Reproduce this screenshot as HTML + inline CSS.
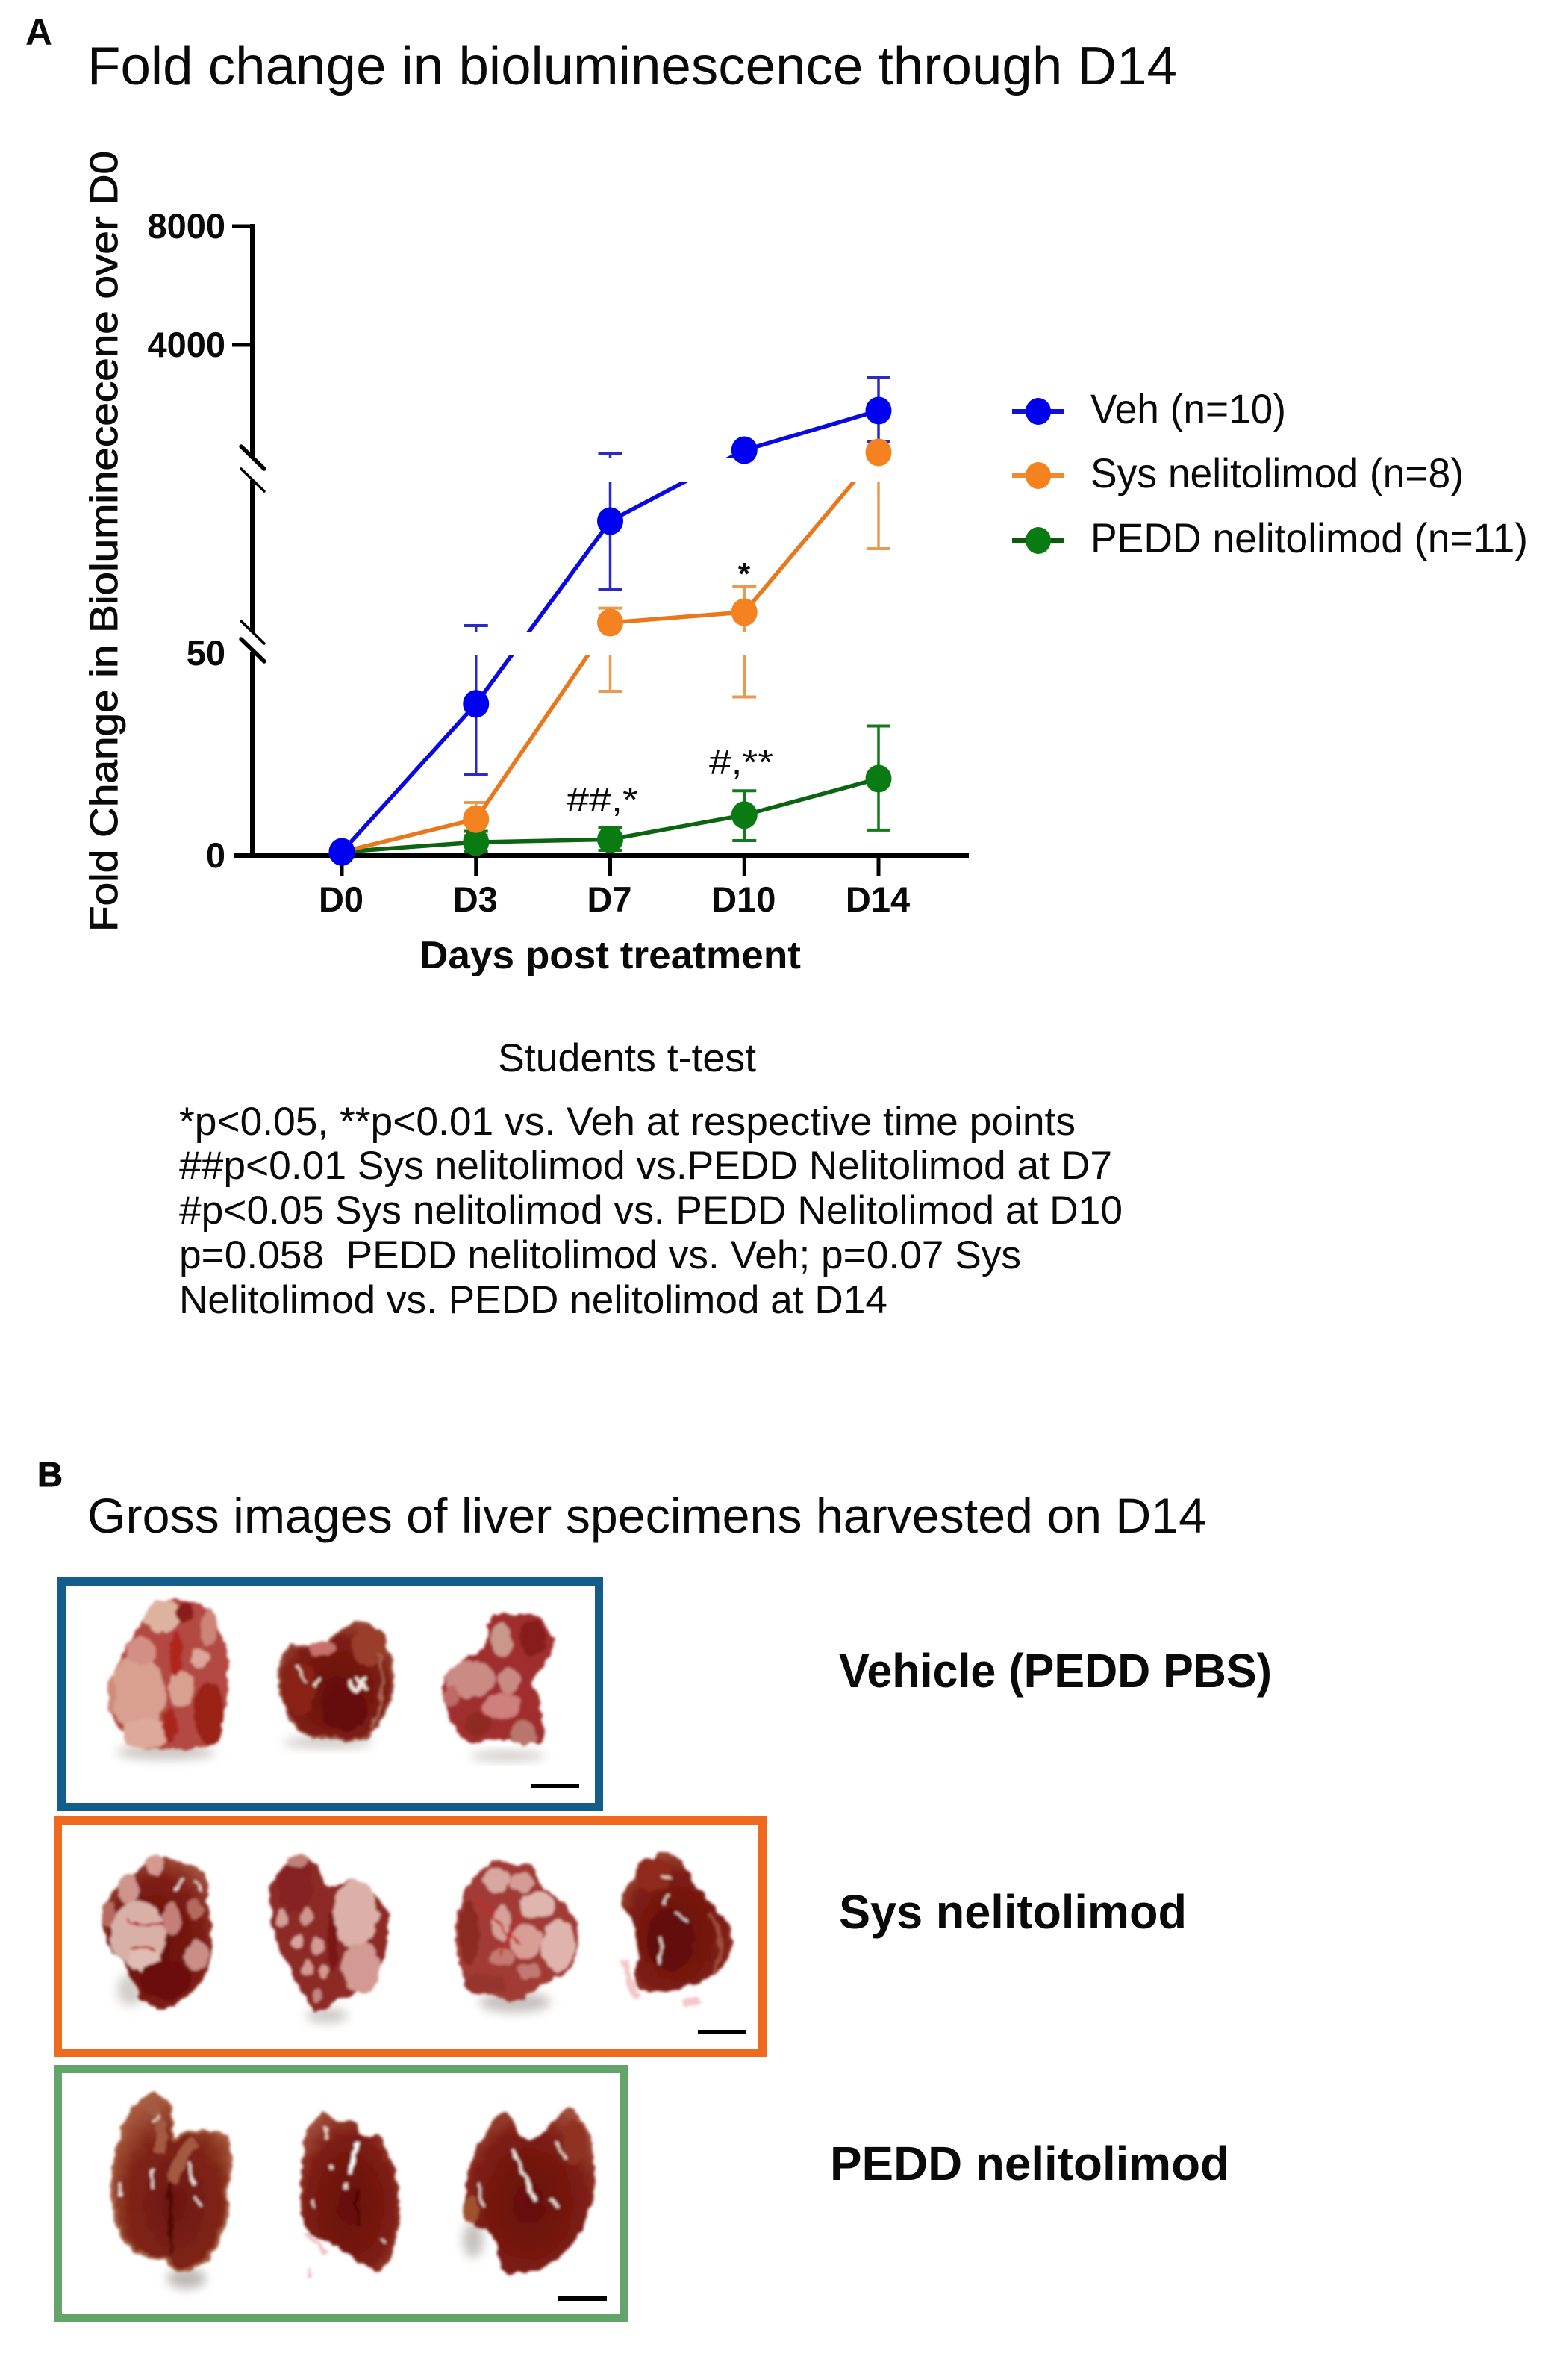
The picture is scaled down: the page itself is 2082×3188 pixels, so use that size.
<!DOCTYPE html>
<html lang="en">
<head>
<meta charset="utf-8">
<title>Fold change in bioluminescence through D14</title>
<style>
html,body{margin:0;padding:0;background:#fff}
svg{display:block}
text{font-family:"Liberation Sans",sans-serif;fill:#0a0a0a}
</style>
</head>
<body>
<svg id="figure" xmlns="http://www.w3.org/2000/svg" width="2082" height="3188" viewBox="0 0 2082 3188">
<defs>
<filter id="b1" x="-20%" y="-20%" width="140%" height="140%">
  <feTurbulence type="fractalNoise" baseFrequency="0.07" numOctaves="2" seed="4" result="n"/>
  <feDisplacementMap in="SourceGraphic" in2="n" scale="11" xChannelSelector="R" yChannelSelector="G"/>
  <feGaussianBlur stdDeviation="1.9"/>
</filter>
<filter id="b2" x="-40%" y="-60%" width="180%" height="220%"><feGaussianBlur stdDeviation="7"/></filter>
<radialGradient id="dark" cx="50%" cy="58%" r="62%"><stop offset="0" stop-color="#650d08"/><stop offset=".7" stop-color="#7e1d14"/><stop offset="1" stop-color="#a04e3b"/></radialGradient>
<radialGradient id="brown" cx="52%" cy="62%" r="65%"><stop offset="0" stop-color="#6c1510"/><stop offset=".6" stop-color="#802517"/><stop offset="1" stop-color="#ad6344"/></radialGradient>
</defs>
<rect width="2082" height="3188" fill="#ffffff"/>

<text x="34" y="60" font-size="50" font-weight="bold" textLength="36" lengthAdjust="spacingAndGlyphs">A</text>
<text x="117" y="113" font-size="72" textLength="1460" lengthAdjust="spacingAndGlyphs">Fold change in bioluminescence through D14</text>

<g id="chart"></g>

<text transform="translate(157,1248) rotate(-90)" font-size="52" stroke="#0a0a0a" stroke-width=".9" textLength="1046" lengthAdjust="spacingAndGlyphs">Fold Change in Bioluminececene over D0</text>
<text x="562" y="1297" font-size="52" font-weight="bold" textLength="511" lengthAdjust="spacingAndGlyphs">Days post treatment</text>

<g>
  <g>
    <line x1="1356" x2="1425" y1="551" y2="551" stroke="#1010d8" stroke-width="6"/><ellipse cx="1391" cy="551" rx="17" ry="18" fill="#0000f0"/>
    <text x="1461" y="567" font-size="56" textLength="262" lengthAdjust="spacingAndGlyphs">Veh (n=10)</text>
  </g>
  <g>
    <line x1="1356" x2="1425" y1="637" y2="637" stroke="#ee8a30" stroke-width="6"/><ellipse cx="1391" cy="637" rx="17" ry="18" fill="#f58220"/>
    <text x="1461" y="653" font-size="56" textLength="500" lengthAdjust="spacingAndGlyphs">Sys nelitolimod (n=8)</text>
  </g>
  <g>
    <line x1="1356" x2="1425" y1="724" y2="724" stroke="#0a5a10" stroke-width="6"/><ellipse cx="1391" cy="724" rx="17" ry="18" fill="#0a7a12"/>
    <text x="1461" y="740" font-size="56" textLength="586" lengthAdjust="spacingAndGlyphs">PEDD nelitolimod (n=11)</text>
  </g>
</g>

<g>
  <text x="759" y="1087" font-size="46" textLength="96" lengthAdjust="spacingAndGlyphs">##,*</text>
  <text x="950" y="1037" font-size="46" textLength="86" lengthAdjust="spacingAndGlyphs">#,**</text>
  <text x="997" y="783" font-size="42" font-weight="bold" text-anchor="middle">*</text>
</g>

<g font-size="53">
  <text x="667" y="1435" textLength="346" lengthAdjust="spacingAndGlyphs">Students t-test</text>
  <text x="240" y="1520" textLength="1201" lengthAdjust="spacingAndGlyphs">*p&lt;0.05, **p&lt;0.01 vs. Veh at respective time points</text>
  <text x="240" y="1579" textLength="1250" lengthAdjust="spacingAndGlyphs">##p&lt;0.01 Sys nelitolimod vs.PEDD Nelitolimod at D7</text>
  <text x="240" y="1639" textLength="1264" lengthAdjust="spacingAndGlyphs">#p&lt;0.05 Sys nelitolimod vs. PEDD Nelitolimod at D10</text>
  <text x="240" y="1699" textLength="1128" lengthAdjust="spacingAndGlyphs" xml:space="preserve">p=0.058  PEDD nelitolimod vs. Veh; p=0.07 Sys</text>
  <text x="240" y="1759" textLength="949" lengthAdjust="spacingAndGlyphs">Nelitolimod vs. PEDD nelitolimod at D14</text>
</g>

<text x="50" y="1991" font-size="46" font-weight="bold" textLength="34" lengthAdjust="spacingAndGlyphs" stroke="#0a0a0a" stroke-width="1">B</text>
<text x="117" y="2053" font-size="66" textLength="1499" lengthAdjust="spacingAndGlyphs">Gross images of liver specimens harvested on D14</text>

<text x="1124" y="2260" font-size="64" font-weight="bold" textLength="580" lengthAdjust="spacingAndGlyphs">Vehicle (PEDD PBS)</text>
<text x="1124" y="2583" font-size="64" font-weight="bold" textLength="466" lengthAdjust="spacingAndGlyphs">Sys nelitolimod</text>
<text x="1112" y="2920" font-size="64" font-weight="bold" textLength="535" lengthAdjust="spacingAndGlyphs">PEDD nelitolimod</text>

<!-- Vehicle box -->
<g>
  <rect x="82.5" y="2118.5" width="720" height="302" fill="#fff" stroke="#125d8a" stroke-width="11"/>
  <ellipse cx="222" cy="2347" rx="66" ry="10" fill="#c9c4c0" filter="url(#b2)"/>
  <ellipse cx="440" cy="2334" rx="60" ry="7" fill="#c9c4c0" filter="url(#b2)"/>
  <ellipse cx="680" cy="2352" rx="50" ry="6" fill="#c9c4c0" filter="url(#b2)"/>
  <g filter="url(#b1)">
    <path d="M224 2140L258 2146 281 2155 298 2190 305 2222 304 2262 302 2298 285 2330 260 2345 228 2342 196 2345 172 2333 158 2317 148 2290 147 2266 158 2228 175 2195 196 2163Z" fill="#b34a42"/>
    <ellipse cx="185" cy="2268" rx="36" ry="52" fill="#d99f8f"/><ellipse cx="196" cy="2322" rx="32" ry="20" fill="#dfa999"/>
    <ellipse cx="218" cy="2165" rx="24" ry="22" fill="#ddb29f"/><ellipse cx="243" cy="2262" rx="17" ry="24" fill="#d9a090"/>
    <ellipse cx="268" cy="2222" rx="12" ry="13" fill="#dca69a"/><ellipse cx="190" cy="2212" rx="20" ry="18" fill="#d48f84"/>
    <ellipse cx="280" cy="2295" rx="20" ry="42" fill="#9a2419"/><ellipse cx="246" cy="2160" rx="13" ry="14" fill="#8c1a1c"/>
    <ellipse cx="236" cy="2215" rx="9" ry="30" fill="#b0261f"/><ellipse cx="228" cy="2310" rx="10" ry="24" fill="#a8281f"/>
    <ellipse cx="280" cy="2180" rx="12" ry="24" fill="#cc8577"/><ellipse cx="150" cy="2270" rx="6" ry="24" fill="#cf8b7a"/>
  </g>
  <g filter="url(#b1)">
    <path d="M477 2170L505 2180 519 2203 527 2240 526 2266 512 2305 491 2329 470 2332 449 2329 415 2326 393 2313 378 2280 372 2242 382 2207 410 2204 435 2207 456 2183Z" fill="url(#dark)" stroke="#9c5140" stroke-width="3"/>
    <ellipse cx="432" cy="2208" rx="20" ry="9" fill="#c9706c"/><ellipse cx="495" cy="2205" rx="24" ry="26" fill="#9a3e2a"/>
    <ellipse cx="462" cy="2290" rx="32" ry="28" fill="#650c08"/><ellipse cx="402" cy="2262" rx="20" ry="36" fill="#8a2416"/>
    <path d="M476 2248l18 14M490 2248l-16 16M466 2254l8 8" stroke="#f6e6dc" stroke-width="5" fill="none"/>
    <path d="M398 2232q8 18 12 22M430 2250l-8 6" stroke="#f0d8cc" stroke-width="3" fill="none"/>
    <path d="M505 2215q18 50-8 100" stroke="#ad6a56" stroke-width="3.5" fill="none"/>
  </g>
  <g filter="url(#b1)">
    <path d="M656 2161L690 2162 723 2165 738 2185 744 2203 732 2230 709 2254 720 2270 726 2290 730 2320 726 2341 694 2329 660 2330 624 2337 606 2310 596 2282 589 2246 624 2222 644 2212 652 2203Z" fill="#a02f2e"/>
    <ellipse cx="672" cy="2198" rx="14" ry="24" fill="#c9988a"/><ellipse cx="630" cy="2250" rx="34" ry="24" fill="#cb8a84"/>
    <ellipse cx="682" cy="2250" rx="14" ry="18" fill="#ca8a84"/><ellipse cx="672" cy="2285" rx="24" ry="18" fill="#cf7f7c"/>
    <ellipse cx="702" cy="2322" rx="18" ry="16" fill="#b9766a"/><ellipse cx="714" cy="2195" rx="18" ry="24" fill="#861f1c"/>
    <ellipse cx="640" cy="2310" rx="18" ry="16" fill="#8f2a20"/><ellipse cx="604" cy="2272" rx="10" ry="14" fill="#bf6a66"/>
  </g>
  <rect x="711" y="2389" width="65" height="6" fill="#000"/>
</g>

<!-- Sys box -->
<g>
  <rect x="77.5" y="2438.5" width="944" height="312" fill="#fff" stroke="#ee6a1f" stroke-width="11"/>
  <ellipse cx="175" cy="2665" rx="18" ry="22" fill="#d3cec9" filter="url(#b2)"/>
  <ellipse cx="438" cy="2700" rx="28" ry="10" fill="#cdc8c4" filter="url(#b2)"/>
  <ellipse cx="690" cy="2682" rx="48" ry="14" fill="#c6c1bd" filter="url(#b2)"/>
  <g filter="url(#b1)">
    <path d="M210 2487L247 2493 272 2505 279 2513 276 2543 282 2570 284 2605 282 2636 260 2670 219 2695 188 2680 172 2636 141 2603 135 2563 150 2535 166 2517Z" fill="url(#dark)"/>
    <ellipse cx="185" cy="2590" rx="37" ry="44" fill="#d9b0a8"/><ellipse cx="195" cy="2625" rx="22" ry="16" fill="#e0bcb4"/>
    <ellipse cx="172" cy="2530" rx="14" ry="20" fill="#cf958c"/><ellipse cx="208" cy="2498" rx="11" ry="14" fill="#d49a90"/>
    <ellipse cx="264" cy="2620" rx="16" ry="20" fill="#c98e86"/><ellipse cx="262" cy="2558" rx="11" ry="14" fill="#b56a60"/>
    <ellipse cx="145" cy="2565" rx="9" ry="18" fill="#b66a62"/><ellipse cx="230" cy="2572" rx="12" ry="22" fill="#c67f78"/>
    <ellipse cx="222" cy="2652" rx="34" ry="26" fill="#6c0f0a"/><path d="M170 2570q25 15 50 5M175 2610q20-8 35 6" stroke="#b4201c" stroke-width="3" fill="none"/>
    <path d="M235 2530l10-14M260 2520l10 12" stroke="#f0d8d0" stroke-width="3" fill="none"/>
  </g>
  <g filter="url(#b1)">
    <path d="M401 2485L425 2497 429 2503 435 2533 466 2517 482 2522 497 2533 515 2550 522 2570 518 2605 513 2630 495 2660 479 2673 451 2676 435 2695 416 2690 400 2660 385 2630 366 2596 360 2537 368 2515 379 2497Z" fill="#8e2b26"/>
    <ellipse cx="476" cy="2565" rx="30" ry="46" fill="#dcb0a8"/><ellipse cx="484" cy="2636" rx="26" ry="34" fill="#d29a92"/>
    <ellipse cx="396" cy="2525" rx="24" ry="36" fill="#862420"/><ellipse cx="398" cy="2493" rx="14" ry="9" fill="#c08077"/>
    <ellipse cx="378" cy="2568" rx="8" ry="12" fill="#d59e96"/><ellipse cx="410" cy="2566" rx="8" ry="12" fill="#cf948c"/>
    <ellipse cx="398" cy="2602" rx="8" ry="10" fill="#d9a49c"/><ellipse cx="426" cy="2606" rx="7" ry="11" fill="#d49a92"/>
    <ellipse cx="412" cy="2636" rx="8" ry="10" fill="#d49a92"/><ellipse cx="434" cy="2642" rx="6" ry="10" fill="#d49a92"/>
    <ellipse cx="426" cy="2672" rx="7" ry="10" fill="#c5867e"/><ellipse cx="445" cy="2600" rx="7" ry="40" fill="#7a1916"/>
  </g>
  <g filter="url(#b1)">
    <path d="M654 2493L690 2497 719 2498 722 2527 742 2538 760 2553 772 2570 776 2590 772 2620 766 2640 735 2653 712 2668 691 2683 654 2671 619 2650 612 2620 610 2590 614 2556 622 2530Z" fill="#a23a35"/>
    <ellipse cx="665" cy="2518" rx="18" ry="16" fill="#d8a79f"/><ellipse cx="698" cy="2522" rx="15" ry="14" fill="#d59c94"/>
    <ellipse cx="720" cy="2552" rx="24" ry="18" fill="#dfb6ae"/><ellipse cx="748" cy="2606" rx="22" ry="34" fill="#e0b4ac"/>
    <ellipse cx="672" cy="2575" rx="12" ry="24" fill="#d7a198"/><ellipse cx="705" cy="2600" rx="22" ry="22" fill="#d99d96"/>
    <ellipse cx="672" cy="2622" rx="18" ry="12" fill="#c47a72"/><ellipse cx="628" cy="2590" rx="14" ry="44" fill="#8b2a22"/>
    <ellipse cx="650" cy="2658" rx="28" ry="14" fill="#96352e"/><ellipse cx="710" cy="2640" rx="16" ry="10" fill="#c07a72"/>
    <path d="M640 2545l55 60M700 2562l-30 55" stroke="#c32a2c" stroke-width="3" fill="none"/>
  </g>
  <g filter="url(#b1)">
    <path d="M836 2625q6 30 18 52M915 2685l22-6" stroke="#f4c8c8" stroke-width="11" fill="none"/>
    <path d="M882 2478L905 2487 916 2497 932 2527 950 2545 966 2563 978 2582 982 2603 975 2626 960 2646 929 2660 905 2663 879 2671 855 2665 851 2656 855 2615 854 2580 840 2563 830 2547 840 2525 854 2507Z" fill="url(#dark)"/>
    <ellipse cx="875" cy="2510" rx="24" ry="22" fill="#8f2a1a"/><ellipse cx="898" cy="2598" rx="32" ry="42" fill="#640c08"/>
    <path d="M886 2512l14 6M895 2538l-4 12M884 2595q6 18-2 36M905 2562l14 10" stroke="#eedad0" stroke-width="3.5" fill="none"/>
    <path d="M950 2565q28 30 6 78" stroke="#a2503c" stroke-width="5" fill="none"/>
  </g>
  <rect x="935" y="2719" width="65" height="6" fill="#000"/>
</g>

<!-- PEDD box -->
<g>
  <rect x="77.5" y="2771.5" width="759" height="333" fill="#fff" stroke="#63a469" stroke-width="11"/>
  <ellipse cx="250" cy="3052" rx="26" ry="14" fill="#bdb8b4" filter="url(#b2)"/>
  <ellipse cx="634" cy="3000" rx="14" ry="24" fill="#c6c1bc" filter="url(#b2)"/>
  <g filter="url(#b1)">
    <path d="M196 2805L218 2808 231 2825 232 2850 228 2870 244 2858 260 2855 292 2856 305 2862 312 2900 302 2937 306 2960 302 2975 288 3010 274 3031 242 3046 224 3024 196 3024 172 3008 158 2986 149 2930 156 2880 168 2840Z" fill="url(#brown)" stroke="#a55c40" stroke-width="4"/>
    <path d="M196 2818q30 20 16 65M262 2868q-22 20-32 55" stroke="#a45a40" stroke-width="15" fill="none"/>
    <path d="M228 2925q0 50 2 95" stroke="#4e0806" stroke-width="5" fill="none"/>
    <path d="M203 2845l10-14M205 2905q-4 15 0 26M254 2895q0 22 6 32M262 2940l8 14M162 2925l-2 16" stroke="#f3e2da" stroke-width="3.5" fill="none"/>
  </g>
  <g filter="url(#b1)">
    <path d="M408 2990l30 28M415 3040v12" stroke="#f2c0c4" stroke-width="6" fill="none"/>
    <path d="M431 2827L446 2838 456 2844 470 2836 478 2850 484 2862 495 2865 505 2855 516 2875 526 2892 533 2930 537 2975 525 3020 509 3048 475 3025 449 3009 420 2996 407 2982 400 2945 406 2900 407 2855Z" fill="url(#dark)"/>
    <path d="M478 2870l-8 40" stroke="#fff" stroke-width="6" fill="none"/>
    <path d="M434 2850l6 14M442 2900l2 6M465 2925l-2 8M418 2948l2 8M512 3000l2 6" stroke="#f2d8cc" stroke-width="3.5" fill="none"/>
    <path d="M478 2930q0 30 2 50" stroke="#450605" stroke-width="4" fill="none"/>
  </g>
  <g filter="url(#b1)">
    <path d="M673 2825L688 2842 695 2860 712 2870 730 2855 758 2819 772 2828 793 2862 796 2900 796 2937 785 2975 765 3012 735 3034 701 3046 673 3046 668 3020 663 2994 640 2985 624 2967 621 2930 632 2895 645 2862Z" fill="url(#dark)"/>
    <path d="M686 2880q18 35 32 70" stroke="#f6e8e0" stroke-width="4" fill="none"/>
    <path d="M642 2925q-2 15 6 30M746 2870l12 22M740 2945l8 12" stroke="#eedcd0" stroke-width="3.5" fill="none"/>
    <ellipse cx="632" cy="2960" rx="10" ry="18" fill="#a0512f"/><ellipse cx="770" cy="2870" rx="16" ry="30" fill="#8f3020"/>
  </g>
  <rect x="748" y="3076" width="65" height="6" fill="#000"/>
</g>

<script>
// ---- chart data ----
const categories = ["D0", "D3", "D7", "D10", "D14"];
const yTickValues = [0, 50, 4000, 8000];
const vehMean = [0.9, 37.5, 86.75, 452, 1786];
const vehHigh = [0.9, 51.75, 326, 452, 2892];
const vehLow = [0.9, 20, 64, 452, 754];
const sysMean = [0.9, 9, 52.75, 56.25, 377];
const sysHigh = [0.9, 13.1, 57.6, 65, 754];
const sysLow = [0.9, 5, 40.6, 39.2, 77.5];
const peddMean = [0.9, 3.3, 4, 10, 19];
const peddHigh = [0.9, 6, 7, 16, 32];
const peddLow = [0.9, 1, 1.3, 3.7, 6.3];

const NS = "http://www.w3.org/2000/svg";
const chart = document.getElementById("chart");

function mk(tag, attrs) {
  const el = document.createElementNS(NS, tag);
  for (const k in attrs) el.setAttribute(k, attrs[k]);
  chart.appendChild(el);
  return el;
}
// category axis
function xScale(i) { return 458 + i * 179.75; }
// broken value axis: 0-50, 50-100, 100-8000
const LOWER_TOP = 875, MID_BOTTOM = 845, MID_TOP = 645, UPPER_BOTTOM = 617;
function yScale(v) {
  if (v <= 50) return 1146 - v * ((1146 - LOWER_TOP) / 50);
  if (v <= 100) return MID_BOTTOM - (v - 50) * ((MID_BOTTOM - MID_TOP) / 50);
  return UPPER_BOTTOM - (v - 100) * (314 / 7900);
}

const seriesList = [
  { key: "pedd", mean: peddMean, high: peddHigh, low: peddLow, line: "#0b6410", err: "#127a18", fill: "#0a7a12" },
  { key: "sys", mean: sysMean, high: sysHigh, low: sysLow, line: "#e8781c", err: "#ea9a50", fill: "#f58220" },
  { key: "veh", mean: vehMean, high: vehHigh, low: vehLow, line: "#0a0ae0", err: "#2a2ac4", fill: "#0000f0" }
];

// error bars and connecting lines
seriesList.forEach(function (s) {
  s.mean.forEach(function (m, i) {
    const x = xScale(i);
    const stem = mk("line", { x1: x, x2: x, y1: yScale(s.high[i]), y2: yScale(s.low[i]), stroke: s.err, "stroke-width": 3.5 });
    
    
    [s.high[i], s.low[i]].forEach(function (e) {
      const cap = mk("line", { x1: x - 16, x2: x + 16, y1: yScale(e), y2: yScale(e), stroke: s.err, "stroke-width": 4 });
      
      
    });
  });
  const pts = s.mean.map(function (m, i) { return xScale(i) + "," + yScale(m); }).join(" ");
  const line = mk("polyline", { points: pts, fill: "none", stroke: s.line, "stroke-width": 5.5 });
  
  
});

// white bands where the value axis is broken
const upperGap = mk("rect", { x: 362, y: UPPER_BOTTOM - 3, width: 940, height: MID_TOP - UPPER_BOTTOM + 4, fill: "#fff" });


const lowerGap = mk("rect", { x: 362, y: MID_BOTTOM + 1, width: 940, height: LOWER_TOP - MID_BOTTOM + 1, fill: "#fff" });



// axes
const yUpper = mk("line", { x1: 338, x2: 338, y1: 300, y2: 614, stroke: "#000", "stroke-width": 6 });


const yMiddle = mk("line", { x1: 338, x2: 338, y1: 643, y2: 847, stroke: "#000", "stroke-width": 6 });


const yLower = mk("line", { x1: 338, x2: 338, y1: 873, y2: 1149, stroke: "#000", "stroke-width": 6 });


const xAxisLine = mk("line", { x1: 313, x2: 1298, y1: 1146, y2: 1146, stroke: "#000", "stroke-width": 6 });



[[598, 5.5], [628, 3.5], [832, 3.5], [856, 5.5]].forEach(function (b) {
  const slash = mk("line", { x1: 323, y1: b[0], x2: 354, y2: b[0] + 30, stroke: "#000", "stroke-width": b[1], "stroke-linecap": "round" });
  
  
});

yTickValues.forEach(function (v) {
  const y = yScale(v);
  if (v !== 0 && v !== 50) {
    const tick = mk("line", { x1: 311, x2: 338, y1: y, y2: y, stroke: "#000", "stroke-width": 5 });
    
    
  }
  const label = mk("text", { x: 302, y: y + 16, "font-size": 47, "font-weight": "bold", "text-anchor": "end" });
  
  
  label.textContent = v;
});

categories.forEach(function (c, i) {
  const x = xScale(i);
  const tick = mk("line", { x1: x, x2: x, y1: 1146, y2: 1173, stroke: "#000", "stroke-width": 5 });
  
  
  const label = mk("text", { x: x - 1, y: 1221, "font-size": 47, "font-weight": "bold", "text-anchor": "middle" });
  
  
  label.textContent = c;
});

// markers on top
seriesList.forEach(function (s) {
  s.mean.forEach(function (m, i) {
    const dot = mk("ellipse", { cx: xScale(i), cy: yScale(m), rx: 17.5, ry: 18.5, fill: s.fill });
    
    
  });
});

// round the polygonal liver outlines into smooth closed curves
document.querySelectorAll('g[filter] path').forEach(function (p) {
  const d = p.getAttribute("d");
  if (!/Z$/.test(d)) return;
  const nums = d.match(/-?[\d.]+/g).map(Number);
  const pts = [];
  for (let i = 0; i + 1 < nums.length; i += 2) pts.push([nums[i], nums[i + 1]]);
  const n = pts.length;
  const mid = function (a, b) { return [(a[0] + b[0]) / 2, (a[1] + b[1]) / 2]; };
  const start = mid(pts[n - 1], pts[0]);
  let out = "M" + start[0] + " " + start[1];
  for (let i = 0; i < n; i++) {
    const m = mid(pts[i], pts[(i + 1) % n]);
    out += "Q" + pts[i][0] + " " + pts[i][1] + " " + m[0] + " " + m[1];
  }
  p.setAttribute("d", out + "Z");
});
</script>
</svg>
</body>
</html>
